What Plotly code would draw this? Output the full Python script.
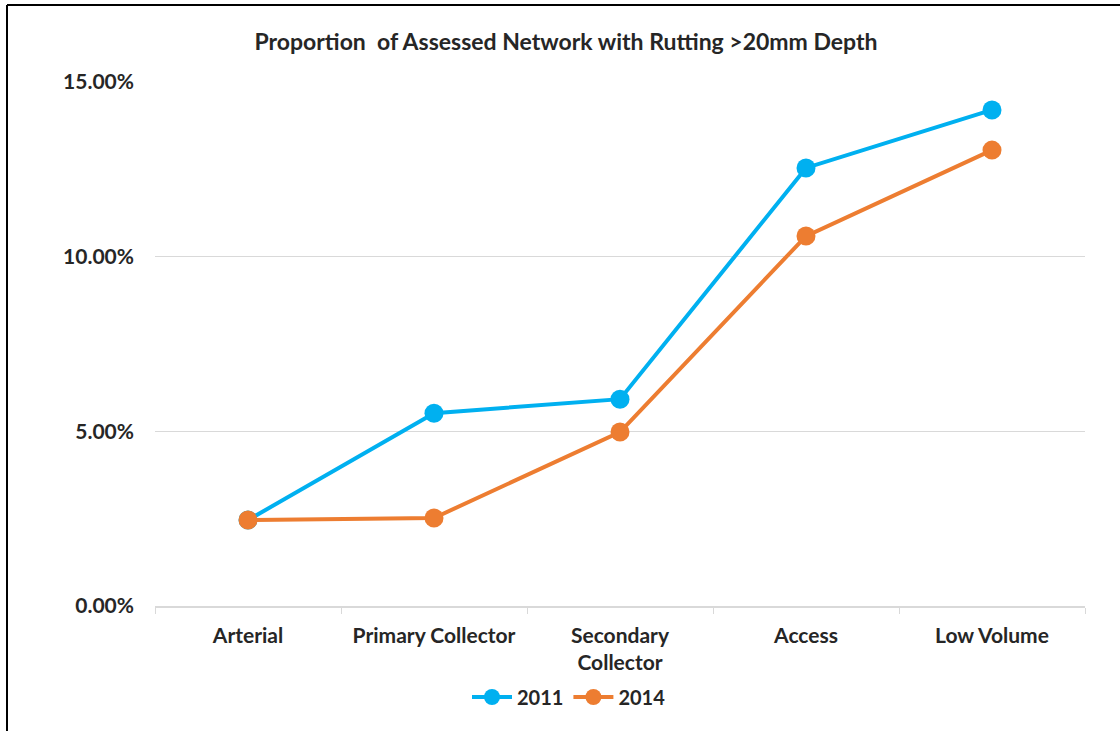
import plotly.graph_objects as go

categories = ["Arterial", "Primary Collector", "Secondary<br>Collector", "Access", "Low Volume"]
values_2011 = [0.0246, 0.0552, 0.0592, 0.1254, 0.1420]
values_2014 = [0.0246, 0.0252, 0.0498, 0.1059, 0.1305]
tick_vals = [0, 0.05, 0.10, 0.15]
tick_text = ["0.00%", "5.00%", "10.00%", "15.00%"]

FONT = "Lato, 'Open Sans', sans-serif"
TXT = "#262626"

fig = go.Figure()
fig.add_trace(go.Scatter(x=categories, y=values_2011, name="2011", mode="lines+markers",
                         line=dict(color="#00B0F0", width=4),
                         marker=dict(size=19, color="#00B0F0")))
fig.add_trace(go.Scatter(x=categories, y=values_2014, name="2014", mode="lines+markers",
                         line=dict(color="#ED7D31", width=4),
                         marker=dict(size=19, color="#ED7D31")))

L, R, T, B = 155, 35, 82, 125
W, H = 1120, 731
pw, ph = W - L - R, H - T - B

fig.update_layout(
    width=W, height=H,
    margin=dict(l=L, r=R, t=T, b=B),
    paper_bgcolor="white", plot_bgcolor="white",
    font=dict(family=FONT, size=16, color=TXT),
    title=dict(text="<b>Proportion  of Assessed Network with Rutting &gt;20mm Depth</b>",
               x=566 / W, xanchor="center", y=1 - 42 / H, yanchor="middle",
               font=dict(size=23, color=TXT, family=FONT)),
    showlegend=True,
    legend=dict(orientation="h", x=(569 - L) / pw, xanchor="center",
                y=(606 - 697) / ph, yanchor="middle",
                font=dict(size=20, color=TXT, family=FONT, weight="bold"),
                itemwidth=40),
    hovermode=False,
)
fig.update_xaxes(type="category", showgrid=False, showline=True, linecolor="#D9D9D9", linewidth=1.5,
                 ticks="outside", tickson="boundaries", ticklen=6, tickcolor="#D9D9D9",
                 ticklabelstandoff=10,
                 tickfont=dict(size=21, color=TXT, family=FONT, weight="bold"),
                 range=[-0.5, 4.5], fixedrange=True)
fig.update_yaxes(range=[0, 0.15], tickvals=tick_vals, ticktext=tick_text,
                 showgrid=True, gridcolor="#D9D9D9", gridwidth=1, zeroline=False,
                 showline=False, ticks="", ticklabelstandoff=20,
                 tickfont=dict(size=21, color=TXT, family=FONT, weight="bold"),
                 fixedrange=True)

# Outer chart border (left & top edges visible in the reference)
fig.add_shape(type="line", xref="paper", yref="paper",
              x0=(7 - L) / pw, x1=(W + 5 - L) / pw, y0=1 + (T - 5) / ph, y1=1 + (T - 5) / ph,
              line=dict(color="black", width=2))
fig.add_shape(type="line", xref="paper", yref="paper",
              x0=(7 - L) / pw, x1=(7 - L) / pw, y0=1 + (T - 5) / ph, y1=(606 - H - 5) / ph,
              line=dict(color="black", width=2))

fig.write_html("out.html", config={"displayModeBar": False},
               post_script="document.body.style.margin='0';")
